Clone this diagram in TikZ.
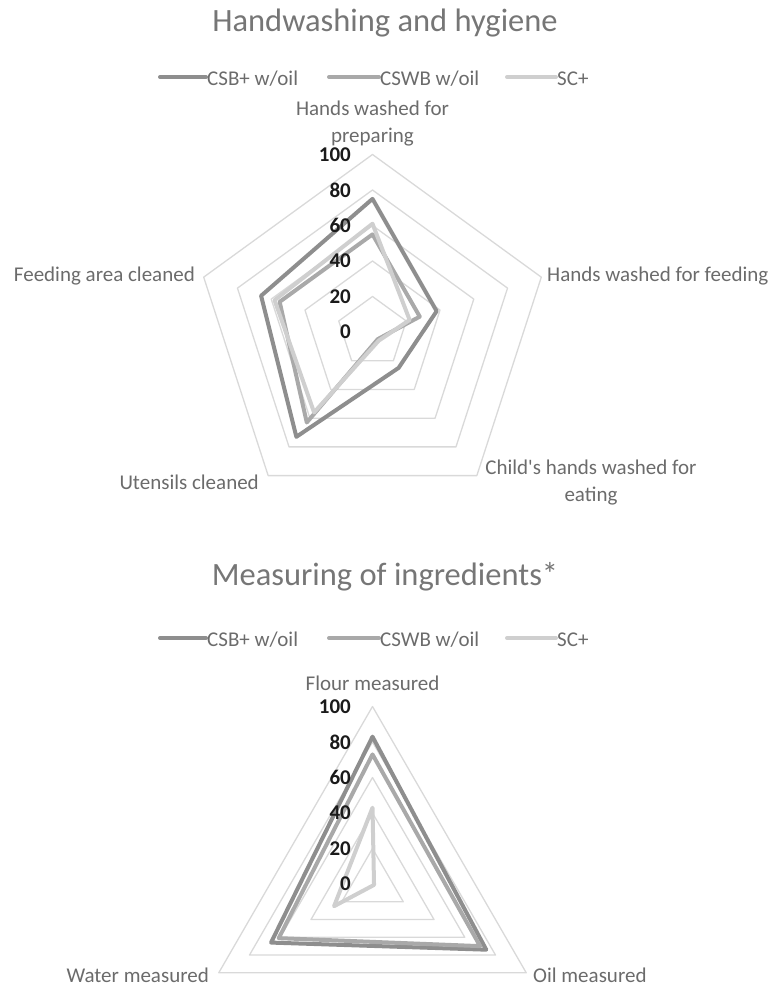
\documentclass[tikz,border=0pt]{standalone}
\usepackage{fontspec}
\setmainfont{Carlito}
\usetikzlibrary{positioning}

\definecolor{csbgray}{HTML}{8E8E8E}
\definecolor{cswbgray}{HTML}{A9A9A9}
\definecolor{scgray}{HTML}{CFCFCF}
\definecolor{gridgray}{HTML}{D9D9D9}
\definecolor{labelgray}{HTML}{6B6B6B}
\definecolor{titlegray}{HTML}{767676}
\definecolor{ticktext}{HTML}{1A1A1A}

\tikzset{
  gridline/.style={draw=gridgray, line width=1.3pt, line join=round},
  series/.style={line width=4pt, line join=round, line cap=round},
  csbline/.style={series, draw=csbgray},
  cswbline/.style={series, draw=cswbgray},
  scline/.style={series, draw=scgray},
  axislabel/.style={text=labelgray, inner sep=0pt, align=center,
    font=\fontsize{21}{26.5}\selectfont},
  ticklabel/.style={text=ticktext, inner sep=0pt, anchor=east,
    font=\fontsize{21}{25}\selectfont\bfseries},
  charttitle/.style={text=titlegray, inner sep=0pt, anchor=base,
    font=\fontsize{32.5}{38}\selectfont},
  legtext/.style={text=labelgray, inner sep=0pt, anchor=base west,
    font=\fontsize{21}{25}\selectfont}
}
\newcommand\unitr{1.775}

\begin{document}
\begin{tikzpicture}[x=1pt,y=1pt]
  \useasboundingbox (0,0) rectangle (774,-986);

  % ---- Handwashing and hygiene ----
  \node[charttitle] (titleA) at (385,-31) {Handwashing and hygiene};

  \draw[csbline] (160,-77) -- (206,-77);
  \node[legtext] (legAcsb) at (207,-85) {CSB+ w/oil};
  \draw[cswbline] (329,-77) -- (379,-77);
  \node[legtext] (legAcswb) at (380,-85) {CSWB w/oil};
  \draw[scline] (507,-77) -- (556,-77);
  \node[legtext] (legAsc) at (557,-85) {SC+};

  \begin{scope}[shift={(372.5,-332)}]
    \foreach \lev in {20,40,...,100}
      \draw[gridline] (90:{\lev*\unitr}) -- (18:{\lev*\unitr}) -- (-54:{\lev*\unitr})
        -- (-126:{\lev*\unitr}) -- (162:{\lev*\unitr}) -- cycle;

    \draw[csbline] (90:{75*\unitr}) -- (18:{38*\unitr}) -- (-54:{25*\unitr})
      -- (-126:{73*\unitr}) -- (162:{66*\unitr}) -- cycle;
    \draw[cswbline] (90:{55*\unitr}) -- (18:{28*\unitr}) -- (-54:{5*\unitr})
      -- (-126:{63*\unitr}) -- (162:{55*\unitr}) -- cycle;
    \draw[scline] (90:{61*\unitr}) -- (18:{22*\unitr}) -- (-54:{6*\unitr})
      -- (-126:{56*\unitr}) -- (162:{58*\unitr}) -- cycle;

    \foreach \lev in {0,20,...,100}
      \node[ticklabel] (tickA\lev) at (-21.5,{\lev*\unitr}) {\lev};
  \end{scope}

  \node[axislabel, anchor=base] (prep) at (372.5,-142) {Hands washed for\\preparing};
  \node[axislabel, anchor=base west] (feed) at (547,-281) {Hands washed for feeding};
  \node[axislabel, anchor=base] (child) at (591,-501) {Child\textquotesingle s hands washed for\\eating};
  \node[axislabel, anchor=base east] (utens) at (259,-489) {Utensils cleaned};
  \node[axislabel, anchor=base east] (area) at (195,-281) {Feeding area cleaned};

  % ---- Measuring of ingredients ----
  \node[charttitle] (titleB) at (385,-585) {Measuring of ingredients*};

  \draw[csbline] (160,-638) -- (206,-638);
  \node[legtext] (legBcsb) at (207,-646) {CSB+ w/oil};
  \draw[cswbline] (329,-638) -- (379,-638);
  \node[legtext] (legBcswb) at (380,-646) {CSWB w/oil};
  \draw[scline] (507,-638) -- (556,-638);
  \node[legtext] (legBsc) at (557,-646) {SC+};

  \begin{scope}[shift={(372.5,-884)}]
    \foreach \lev in {20,40,...,100}
      \draw[gridline] (90:{\lev*\unitr}) -- (210:{\lev*\unitr}) -- (-30:{\lev*\unitr}) -- cycle;

    \draw[csbline] (90:{83*\unitr}) -- (-30:{74*\unitr}) -- (210:{66*\unitr}) -- cycle;
    \draw[cswbline] (90:{73*\unitr}) -- (-30:{70*\unitr}) -- (210:{61*\unitr}) -- cycle;
    \draw[scline] (90:{43*\unitr}) -- (-30:{1*\unitr}) -- (210:{25*\unitr}) -- cycle;

    \foreach \lev in {0,20,...,100}
      \node[ticklabel] (tickB\lev) at (-21.5,{\lev*\unitr}) {\lev};
  \end{scope}

  \node[axislabel, anchor=base] (flour) at (372.5,-690) {Flour measured};
  \node[axislabel, anchor=base east] (water) at (209,-982) {Water measured};
  \node[axislabel, anchor=base west] (oil) at (533,-982) {Oil measured};
\end{tikzpicture}
\end{document}
